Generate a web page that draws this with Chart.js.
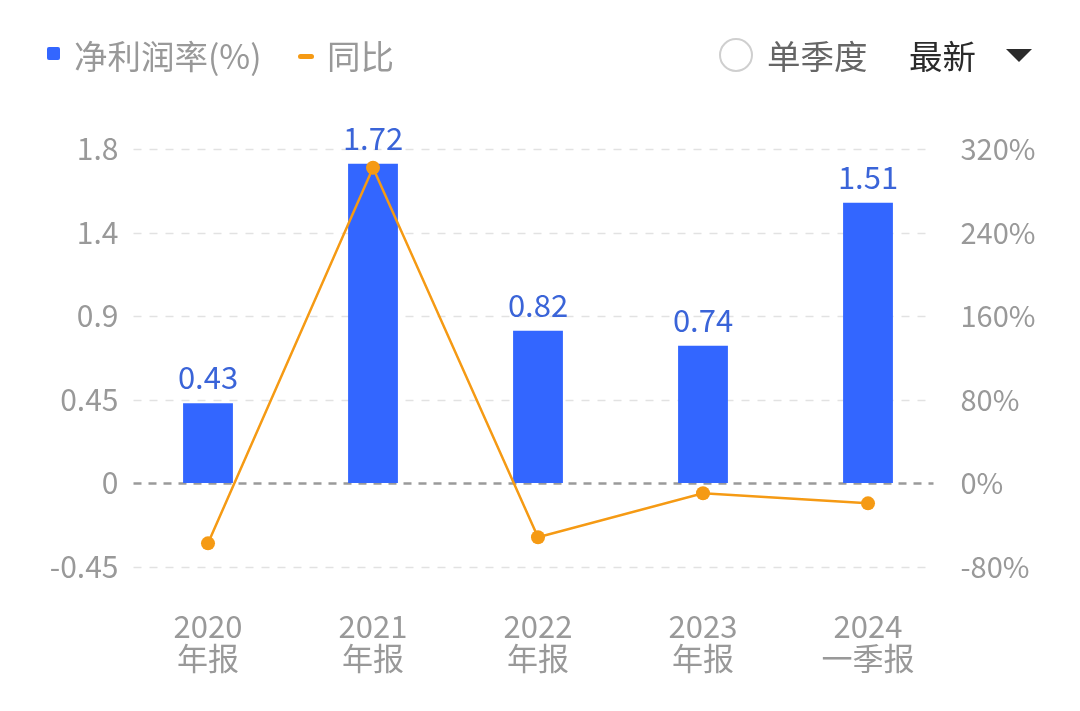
<!DOCTYPE html>
<html>
<head>
<meta charset="utf-8">
<script src="https://cdn.jsdelivr.net/npm/chart.js@4.4.1/dist/chart.umd.min.js"></script>
<style>
  html, body { margin: 0; padding: 0; background: #fff; }
  body { width: 1080px; height: 711px; position: relative; overflow: hidden;
         font-family: "Noto Sans CJK SC", "Noto Sans", sans-serif; }
  #wrap { position: absolute; left: 0; top: 0; width: 1080px; height: 711px; }
  .lg { position: absolute; top: 31px; font-size: 33.5px; line-height: 48px; color: #999; white-space: nowrap; }
  .sq { position: absolute; left: 47px; top: 47px; width: 13px; height: 13px; background: #3366ff; border-radius: 2px; }
  .dash { position: absolute; left: 298px; top: 54px; width: 16px; height: 5px; background: #f59a14; border-radius: 3px; }
  .circ { position: absolute; left: 719px; top: 38px; width: 34px; height: 34px; border: 2px solid #cfcfcf; border-radius: 50%; box-sizing: border-box; }
  .tri { position: absolute; left: 1006px; top: 49px; width: 0; height: 0;
         border-left: 13px solid transparent; border-right: 13px solid transparent; border-top: 13px solid #2b2b2b; }
</style>
</head>
<body>
<div id="wrap"><canvas id="c" width="1080" height="711"></canvas></div>
<div class="sq"></div>
<div class="lg" style="left:74px;">净利润率(%)</div>
<div class="dash"></div>
<div class="lg" style="left:327px;">同比</div>
<div class="circ"></div>
<div class="lg" style="left:767px;color:#666;">单季度</div>
<div class="lg" style="left:909px;color:#2b2b2b;">最新</div>
<div class="tri"></div>
<script>
const categories = [["2020", "年报"], ["2021", "年报"], ["2022", "年报"], ["2023", "年报"], ["2024", "一季报"]];
const netMargin = [0.43, 1.72, 0.82, 0.74, 1.51];
const yoyGrowth = [-57.8, 302, -52.0, -9.8, -19.5];
const leftTickLabels = ["-0.45", "0", "0.45", "0.9", "1.4", "1.8"];
const rightTickLabels = ["-80%", "0%", "80%", "160%", "240%", "320%"];

const FONT = '"Noto Sans CJK SC", "Noto Sans", sans-serif';
const BLUE = '#3366ff';
const LABEL_BLUE = '#3a64d8';
const ORANGE = '#f59a14';

const gridPlugin = {
  id: 'customGrid',
  beforeDatasetsDraw(chart) {
    const ctx = chart.ctx;
    const y = chart.scales.y;
    const area = chart.chartArea;
    const x0 = area.left + 8, x1 = area.right - 17;
    ctx.save();
    y.ticks.forEach(t => {
      const py = Math.round(y.getPixelForValue(t.value)) + 0.5;
      const isZero = Math.abs(t.value) < 1e-9;
      ctx.beginPath();
      ctx.setLineDash(isZero ? [8, 7] : [8, 8]);
      ctx.lineWidth = isZero ? 2.5 : 1.5;
      ctx.strokeStyle = isZero ? '#9a9a9a' : '#e2e2e2';
      ctx.moveTo(x0, py);
      ctx.lineTo(x1, py);
      ctx.stroke();
    });
    ctx.restore();
  }
};

const labelPlugin = {
  id: 'barLabels',
  afterDatasetsDraw(chart) {
    const ctx = chart.ctx;
    const meta = chart.getDatasetMeta(1);
    ctx.save();
    ctx.font = '31px ' + FONT;
    ctx.fillStyle = LABEL_BLUE;
    ctx.textAlign = 'center';
    ctx.textBaseline = 'alphabetic';
    meta.data.forEach((bar, i) => {
      ctx.fillText(netMargin[i].toFixed(2), bar.x, bar.y - 14);
    });
    ctx.restore();
  }
};

new Chart(document.getElementById('c'), {
  data: {
    labels: categories,
    datasets: [
      {
        type: 'line',
        label: '同比',
        data: yoyGrowth,
        yAxisID: 'y1',
        borderColor: ORANGE,
        backgroundColor: ORANGE,
        borderWidth: 2.5,
        pointRadius: 7,
        pointHoverRadius: 7,
        pointBorderWidth: 0,
        tension: 0,
        order: 0
      },
      {
        type: 'bar',
        label: '净利润率(%)',
        data: netMargin,
        yAxisID: 'y',
        backgroundColor: BLUE,
        categoryPercentage: 1,
        barPercentage: 0.302,
        order: 1
      }
    ]
  },
  options: {
    responsive: false,
    animation: false,
    devicePixelRatio: 1,
    layout: { padding: { left: 0, right: 0, top: 149, bottom: 0 } },
    plugins: { legend: { display: false }, tooltip: { enabled: false } },
    scales: {
      x: {
        offset: true,
        grid: { display: false, drawTicks: false },
        border: { display: false },
        ticks: { color: '#999', font: { family: FONT, size: 31, lineHeight: 1.03 }, padding: 44, maxRotation: 0, autoSkip: false },
        afterFit(s) { s.height = 144.5; }
      },
      y: {
        position: 'left',
        min: -0.45, max: 1.8,
        grid: { display: false, drawTicks: false },
        border: { display: false },
        ticks: {
          stepSize: 0.45,
          color: '#999',
          font: { family: FONT, size: 30 },
          padding: 7,
          callback: (v, i) => leftTickLabels[i]
        },
        afterFit(s) { s.width = 125.5; }
      },
      y1: {
        position: 'right',
        min: -80, max: 320,
        grid: { display: false, drawTicks: false },
        border: { display: false },
        ticks: {
          stepSize: 80,
          color: '#999',
          font: { family: FONT, size: 29 },
          padding: 10,
          callback: (v, i) => rightTickLabels[i]
        },
        afterFit(s) { s.width = 129.5; }
      }
    }
  },
  plugins: [gridPlugin, labelPlugin]
});
</script>
</body>
</html>
